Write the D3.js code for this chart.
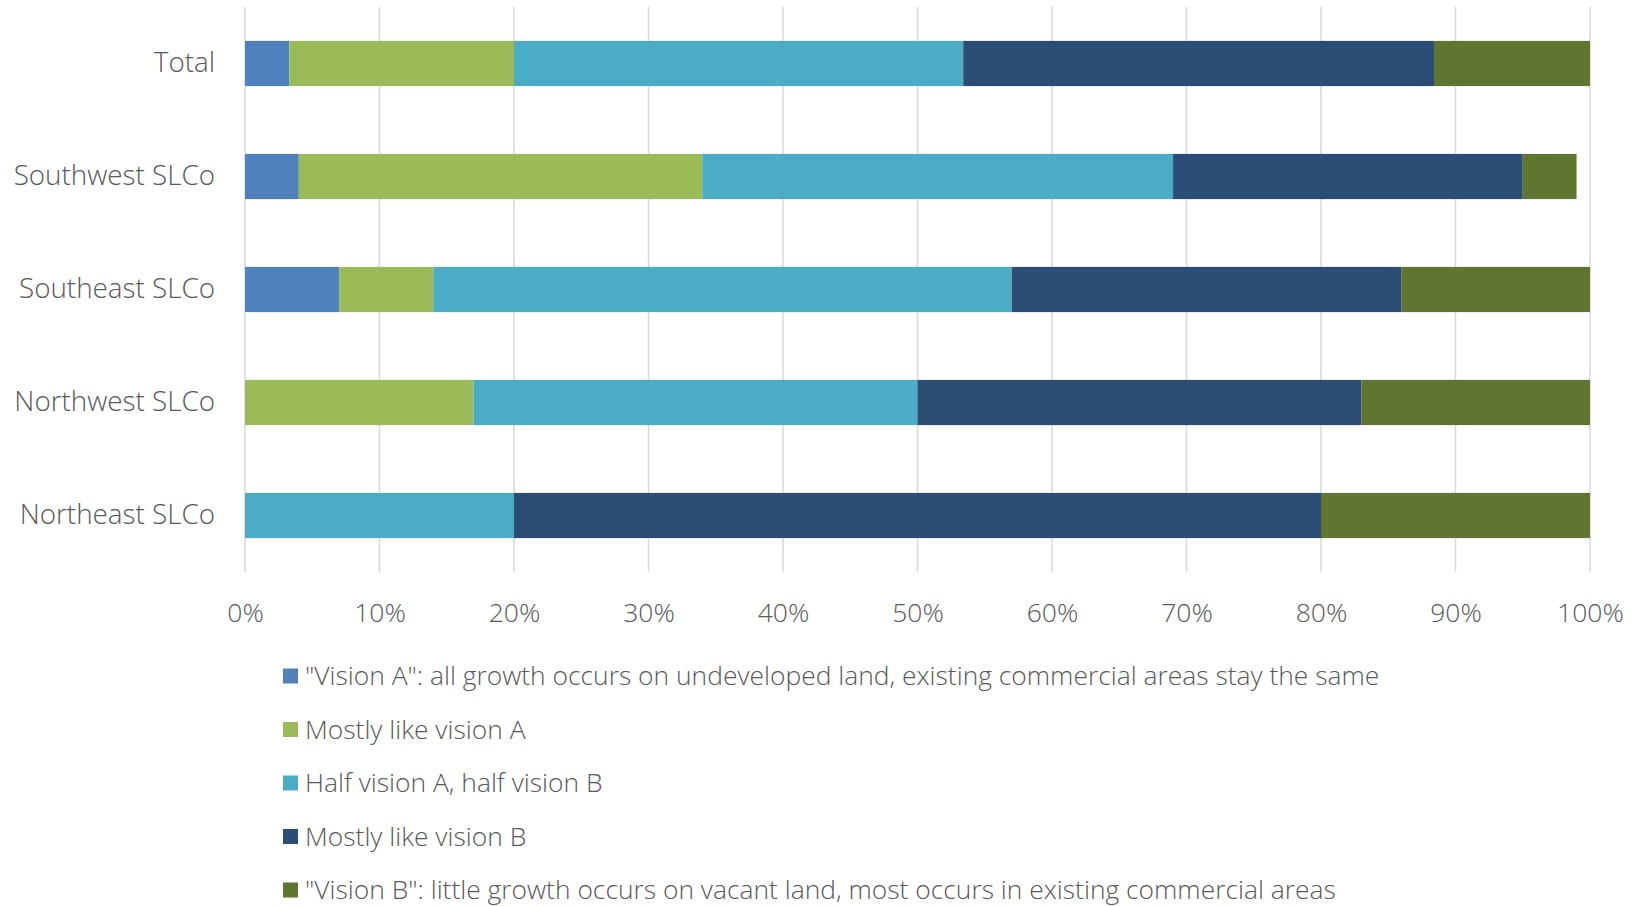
<!DOCTYPE html>
<html>
<head>
<meta charset="utf-8">
<script src="https://cdn.jsdelivr.net/npm/d3@7"></script>
<style>
  html, body { margin: 0; padding: 0; background: #fff; }
  svg { display: block; }
  text { font-family: "Open Sans", "Liberation Sans", sans-serif; font-weight: 300; fill: #595959; }
</style>
</head>
<body>
<svg id="chart" width="1643" height="906"></svg>
<script>
const categories = ["Total", "Southwest SLCo", "Southeast SLCo", "Northwest SLCo", "Northeast SLCo"];
const seriesNames = [
  "\"Vision A\": all growth occurs on undeveloped land, existing commercial areas stay the same",
  "Mostly like vision A",
  "Half vision A, half vision B",
  "Mostly like vision B",
  "\"Vision B\": little growth occurs on vacant land, most occurs in existing commercial areas"
];
const visionA    = [0.033, 0.04, 0.07, 0.00, 0.00];
const mostlyA    = [0.167, 0.30, 0.07, 0.17, 0.00];
const halfAB     = [0.334, 0.35, 0.43, 0.33, 0.20];
const mostlyB    = [0.350, 0.26, 0.29, 0.33, 0.60];
const visionB    = [0.116, 0.04, 0.14, 0.17, 0.20];
const tickValues = [0, 0.1, 0.2, 0.3, 0.4, 0.5, 0.6, 0.7, 0.8, 0.9, 1.0];
const colors = ["#4F81BD", "#9BBB59", "#4BACC6", "#2C4D75", "#5F7530"];

const seriesValues = [visionA, mostlyA, halfAB, mostlyB, visionB];
const rows = categories.map((c, i) => {
  const r = { category: c };
  seriesNames.forEach((s, j) => r[s] = seriesValues[j][i]);
  return r;
});
const stacked = d3.stack().keys(seriesNames)(rows);

const svg = d3.select("#chart");
const x = d3.scaleLinear().domain([0, 1]).range([245, 1590]);
const y = d3.scaleBand().domain(categories).range([7, 572]).paddingInner(0.6).paddingOuter(0.3);

// gridlines
svg.append("g").selectAll("line").data(tickValues).join("line")
  .attr("x1", d => x(d)).attr("x2", d => x(d))
  .attr("y1", 7).attr("y2", 572)
  .attr("stroke", "#d9d9d9").attr("stroke-width", 1.5);

// bars
svg.append("g").selectAll("g").data(stacked).join("g")
  .attr("fill", (d, i) => colors[i])
  .selectAll("rect").data(d => d).join("rect")
  .attr("x", d => x(d[0]))
  .attr("width", d => Math.max(0, x(d[1]) - x(d[0])))
  .attr("y", d => y(d.data.category))
  .attr("height", y.bandwidth());

// x axis labels
const xAxis = d3.axisBottom(x).tickValues(tickValues).tickFormat(d3.format(".0%")).tickSize(0).tickPadding(0);
const gx = svg.append("g").attr("transform", "translate(0,613)").call(xAxis);
gx.select(".domain").remove();
gx.selectAll("text").attr("font-size", 26.5).attr("dy", "0.35em").attr("y", 0);

// y axis labels
const yAxis = d3.axisLeft(y).tickSize(0).tickPadding(0);
const gy = svg.append("g").attr("transform", "translate(215,0)").call(yAxis);
gy.select(".domain").remove();
gy.selectAll("text").attr("font-size", 27.8).attr("x", 0);

// legend
const legend = svg.append("g").selectAll("g").data(seriesNames).join("g")
  .attr("transform", (d, i) => `translate(283, ${676 + i * 53.5})`);
legend.append("rect").attr("x", 0).attr("y", -7.5).attr("width", 15).attr("height", 15)
  .attr("fill", (d, i) => colors[i]);
legend.append("text").attr("x", 22).attr("dy", "0.35em").attr("font-size", 26.4).text(d => d);
svg.selectAll("text").attr("font-family", "Open Sans");
</script>
</body>
</html>
